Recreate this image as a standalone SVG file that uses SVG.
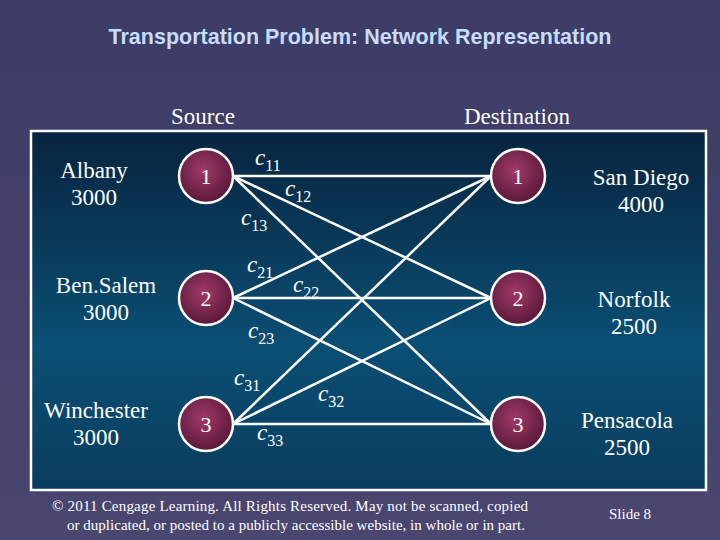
<svg xmlns="http://www.w3.org/2000/svg" width="720" height="540" viewBox="0 0 720 540">
<defs>
<linearGradient id="bg" x1="0" y1="0" x2="0" y2="1"><stop offset="0" stop-color="#3c3c66"/><stop offset="1" stop-color="#4a4670"/></linearGradient>
<linearGradient id="box" x1="0" y1="0" x2="0" y2="1"><stop offset="0" stop-color="#08243f"/><stop offset="0.6" stop-color="#0a4f74"/><stop offset="1" stop-color="#0a3d5e"/></linearGradient>
<radialGradient id="nd" cx="0.45" cy="0.4" r="0.6"><stop offset="0" stop-color="#a03a6a"/><stop offset="1" stop-color="#5a1838"/></radialGradient>
<style>
.n{fill:url(#nd);stroke:#fff;stroke-width:2.5}
.nt{font-family:"Liberation Serif",serif;font-size:22px;fill:#fff;text-anchor:middle}
.lb{font-family:"Liberation Serif",serif;font-size:23px;fill:#fff;text-anchor:middle}
.c{font-family:"Liberation Serif",serif;font-size:23px;font-style:italic;fill:#fff}
.s{font-style:normal;font-size:16px}
.e line{stroke:#fff;stroke-width:2.5}
.f{font-family:"Liberation Serif",serif;font-size:15px;fill:#fff;text-anchor:middle}
</style>
</defs>
<rect width="720" height="540" fill="url(#bg)"/>
<text x="360" y="44" font-family="Liberation Sans,sans-serif" font-weight="bold" font-size="21.5" fill="#c8dcff" text-anchor="middle">Transportation Problem: Network Representation</text>
<text x="203" y="124" class="lb">Source</text>
<text x="517" y="124" class="lb">Destination</text>
<rect x="31" y="131" width="675" height="359" fill="url(#box)" stroke="#fff" stroke-width="2.5"/>
<g id="edges" class="e">
<line x1="233" y1="176" x2="491" y2="176"/><line x1="233" y1="176" x2="491" y2="298"/><line x1="233" y1="176" x2="491" y2="424"/>
<line x1="233" y1="298" x2="491" y2="176"/><line x1="233" y1="298" x2="491" y2="298"/><line x1="233" y1="298" x2="491" y2="424"/>
<line x1="233" y1="424" x2="491" y2="176"/><line x1="233" y1="424" x2="491" y2="298"/><line x1="233" y1="424" x2="491" y2="424"/>
</g>
<g id="s1"><circle cx="206" cy="176" r="27" class="n"/><text x="206" y="184" class="nt">1</text><text x="94" y="178" class="lb">Albany</text><text x="94" y="205" class="lb">3000</text></g>
<g id="s2"><circle cx="206" cy="298" r="27" class="n"/><text x="206" y="306" class="nt">2</text><text x="106" y="293" class="lb">Ben.Salem</text><text x="106" y="320" class="lb">3000</text></g>
<g id="s3"><circle cx="206" cy="424" r="27" class="n"/><text x="206" y="432" class="nt">3</text><text x="96" y="418" class="lb">Winchester</text><text x="96" y="445" class="lb">3000</text></g>
<g id="d1"><circle cx="518" cy="176" r="27" class="n"/><text x="518" y="184" class="nt">1</text><text x="641" y="185" class="lb">San Diego</text><text x="641" y="212" class="lb">4000</text></g>
<g id="d2"><circle cx="518" cy="298" r="27" class="n"/><text x="518" y="306" class="nt">2</text><text x="634" y="307" class="lb">Norfolk</text><text x="634" y="334" class="lb">2500</text></g>
<g id="d3"><circle cx="518" cy="424" r="27" class="n"/><text x="518" y="432" class="nt">3</text><text x="627" y="428" class="lb">Pensacola</text><text x="627" y="455" class="lb">2500</text></g>
<g id="labels">
<text x="255" y="165" class="c">c<tspan class="s" dy="6">11</tspan></text>
<text x="285" y="196" class="c">c<tspan class="s" dy="6">12</tspan></text>
<text x="241" y="225" class="c">c<tspan class="s" dy="6">13</tspan></text>
<text x="247" y="272" class="c">c<tspan class="s" dy="6">21</tspan></text>
<text x="293" y="292" class="c">c<tspan class="s" dy="6">22</tspan></text>
<text x="248" y="338" class="c">c<tspan class="s" dy="6">23</tspan></text>
<text x="234" y="385" class="c">c<tspan class="s" dy="6">31</tspan></text>
<text x="318" y="401" class="c">c<tspan class="s" dy="6">32</tspan></text>
<text x="257" y="440" class="c">c<tspan class="s" dy="6">33</tspan></text>
</g>
<text x="290" y="511" class="f" textLength="476">© 2011  Cengage Learning.  All Rights Reserved.  May not be scanned, copied</text>
<text x="296" y="530" class="f" textLength="458">or duplicated, or posted to a publicly accessible website, in whole or in part.</text>
<text x="630" y="519" class="f">Slide   8</text>
</svg>
